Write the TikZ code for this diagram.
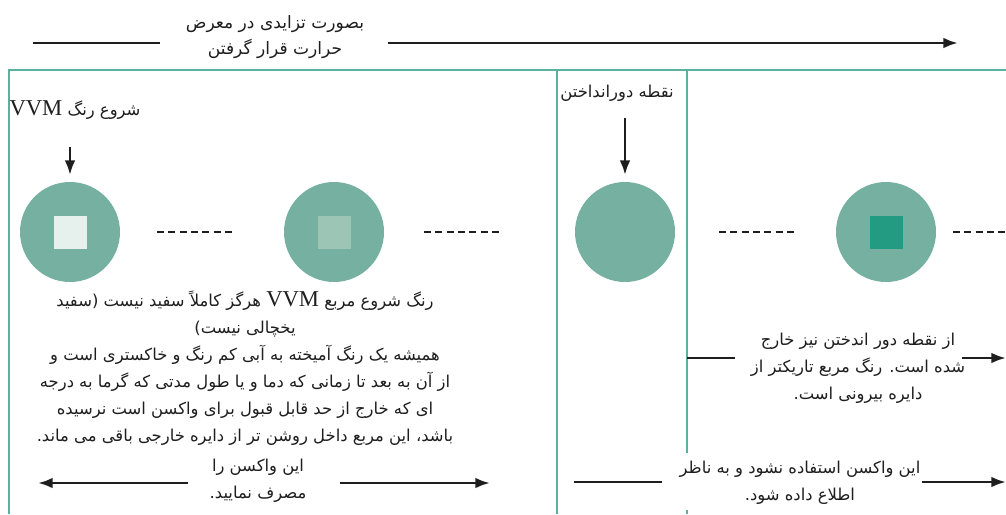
\documentclass[tikz,border=0pt]{standalone}
\usepackage{fontspec}
\setmainfont{Liberation Serif}
\newfontfamily\fa[Script=Arabic]{DejaVu Sans}
\newfontfamily\lat{Liberation Serif}
\TeXXeTstate=1
\usetikzlibrary{arrows.meta}
\definecolor{frame}{RGB}{90,178,158}
\definecolor{circ}{RGB}{117,176,160}
\definecolor{sqA}{RGB}{230,240,236}
\definecolor{sqB}{RGB}{156,197,182}
\definecolor{sqC}{RGB}{35,154,130}
\definecolor{ink}{RGB}{30,30,30}
\begin{document}
\begin{tikzpicture}[x=0.75pt,y=-0.75pt,
  arr/.style={draw=ink, line width=2pt, -{Latex[length=11pt,width=8pt]}},
  bar/.style={draw=ink, line width=2pt},
  fr/.style={draw=frame, line width=1.2pt},
  circ/.style={circle, fill=circ, minimum size=75pt, inner sep=0pt},
  sq/.style={minimum size=24.75pt, inner sep=0pt},
  dsh/.style={draw=ink, line width=2.1pt, dash pattern=on 5.3pt off 3.2pt},
  fa/.style={font=\fa\fontsize{12.3}{20.2}\selectfont, text=ink, align=center, inner sep=1pt},
  fatop/.style={fa, font=\fa\fontsize{12.8}{19.5}\selectfont},
]
\useasboundingbox (0,0) rectangle (1006,514);

% frame
\draw[fr] (9,514) -- (9,70) -- (1006,70);
\draw[fr] (557,70) -- (557,514);
\draw[fr] (687,70) -- (687,453);
\draw[fr] (687,510) -- (687,514);

% top arrow
\node[fatop] (tt) at (275,37) {\beginR بصورت تزایدی در معرض\endR\\\beginR حرارت قرار گرفتن\endR};
\coordinate (ta) at (33,43);
\coordinate (tb) at (160,43);
\coordinate (tc) at (388,43);
\coordinate (td) at (958,43);
\draw[bar] (ta) -- (tb);
\draw[arr] (tc) -- (td);

% circles
\node[circ] (c1) at (70,232) {};
\node[sq, fill=sqA] (s1) at (c1) {};
\node[circ] (c2) at (334,232) {};
\node[sq, fill=sqB] (s2) at (c2) {};
\node[circ] (c3) at (625,232) {};
\node[circ] (c4) at (886,232) {};
\node[sq, fill=sqC] (s4) at (c4) {};

% dashes
\coordinate (d1a) at (157,232); \coordinate (d1b) at (232,232);
\coordinate (d2a) at (424,232); \coordinate (d2b) at (499,232);
\coordinate (d3a) at (719,232); \coordinate (d3b) at (794,232);
\coordinate (d4a) at (953,232); \coordinate (d4b) at (1010,232);
\draw[dsh] (d1a) -- (d1b);
\draw[dsh] (d2a) -- (d2b);
\draw[dsh] (d3a) -- (d3b);
\draw[dsh] (d4a) -- (d4b);

% labels above circles
\node[fa] (l1) at (75,110) {\beginR شروع رنگ {\lat\fontsize{17}{18}\selectfont VVM}\endR};
\coordinate (a1) at (70,147);
\draw[arr, shorten >=5pt] (a1) -- (c1.north);
\node[fa] (l3) at (617,93) {\beginR نقطه دورانداختن\endR};
\coordinate (a3) at (625,118);
\draw[arr, shorten >=5pt] (a3) -- (c3.north);

% left text block
\node[fa] (tl) at (245,368) {%
\beginR رنگ شروع مربع {\lat\fontsize{17}{18}\selectfont VVM} هرگز کاملاً سفید نیست (سفید\endR\\
\beginR یخچالی نیست)\endR\\
\beginR همیشه یک رنگ آمیخته به آبی کم رنگ و خاکستری است و\endR\\
\beginR از آن به بعد تا زمانی که دما و یا طول مدتی که گرما به درجه\endR\\
\beginR ای که خارج از حد قابل قبول برای واکسن است نرسیده\endR\\
\beginR باشد، این مربع داخل روشن تر از دایره خارجی باقی می ماند.\endR};

% right middle text
\node[fa] (tr) at (858,368) {%
\beginR از نقطه دور اندختن نیز خارج\endR\\
\beginR شده است. رنگ مربع تاریکتر از\endR\\
\beginR دایره بیرونی است.\endR};
\coordinate (r1) at (687,358); \coordinate (r2) at (735,358);
\coordinate (r3) at (962,358); \coordinate (r4) at (1006,358);
\draw[bar] (r1) -- (r2);
\draw[arr] (r3) -- (r4);

% bottom left
\node[fa] (bl) at (258,481) {\beginR این واکسن را\endR\\\beginR مصرف نمایید.\endR};
\coordinate (b1) at (188,483); \coordinate (b2) at (38,483);
\coordinate (b3) at (340,483); \coordinate (b4) at (490,483);
\draw[arr] (b1) -- (b2);
\draw[arr] (b3) -- (b4);

% bottom right
\node[fa] (br) at (800,483) {\beginR این واکسن استفاده نشود و به ناظر\endR\\\beginR اطلاع داده شود.\endR};
\coordinate (e1) at (574,482); \coordinate (e2) at (662,482);
\coordinate (e3) at (922,482); \coordinate (e4) at (1006,482);
\draw[bar] (e1) -- (e2);
\draw[arr] (e3) -- (e4);
\end{tikzpicture}
\end{document}
